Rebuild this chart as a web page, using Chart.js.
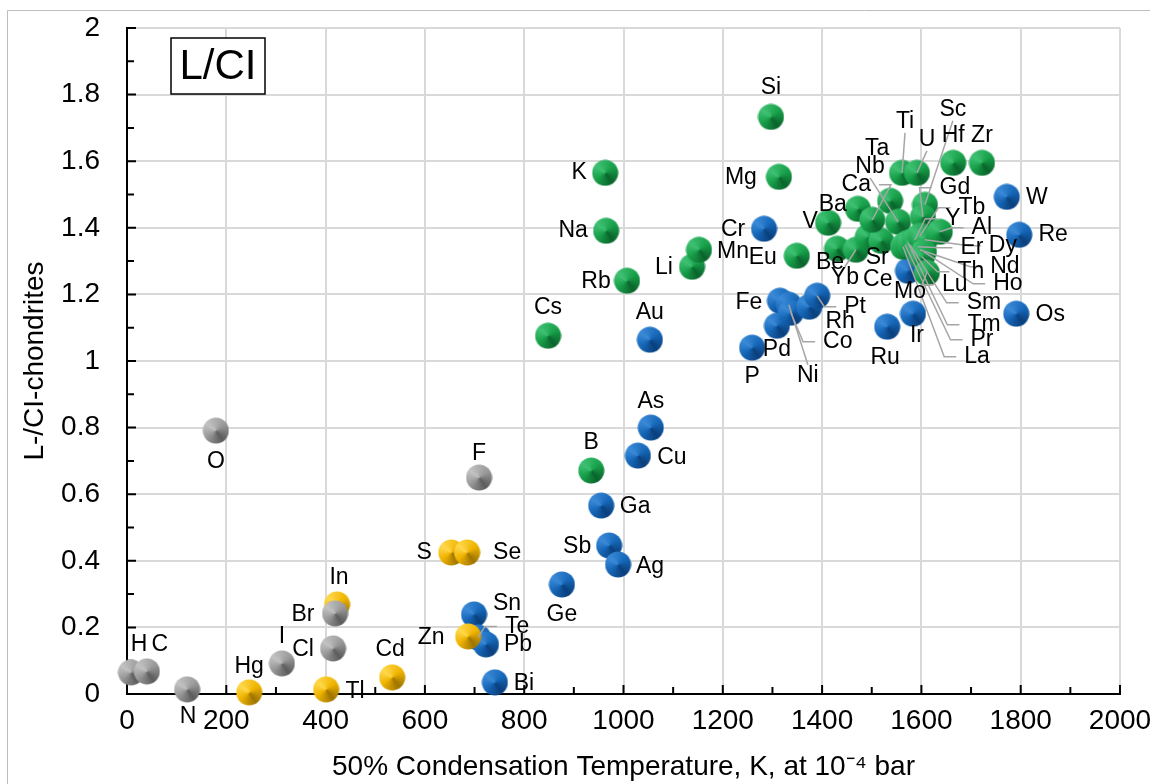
<!DOCTYPE html>
<html>
<head>
<meta charset="UTF-8">
<title>L/CI vs condensation temperature</title>
<script src="https://cdn.jsdelivr.net/npm/chart.js"></script>
<style>
  body { margin: 0; background: #fff; }
  canvas { display: block; }
</style>
</head>
<body>
<canvas id="chart" width="1150" height="784"></canvas>
<script>
// 50% condensation temperature (K) and L-/CI-chondrite ratio, per element group
var grayNames = ['H', 'C', 'N', 'O', 'F', 'Cl', 'Br', 'I'];
var grayTc    = [8, 40, 121, 179, 709, 415, 419, 312];
var grayRatio = [0.065, 0.068, 0.014, 0.791, 0.650, 0.137, 0.242, 0.092];

var yellowNames = ['Hg', 'Tl', 'In', 'Cd', 'S', 'Se', 'Zn'];
var yellowTc    = [246, 401, 423, 534, 653, 685, 687];
var yellowRatio = [0.005, 0.014, 0.269, 0.050, 0.425, 0.425, 0.173];

var greenNames = ['Si', 'Mg', 'K', 'Na', 'Rb', 'Li', 'Mn', 'Cs', 'B', 'Eu', 'V', 'Be', 'Yb', 'Ba',
                  'Ce', 'Sr', 'Ca', 'Ta', 'Nb', 'La', 'Pr', 'Tm', 'Sm', 'Ti', 'U', 'Sc', 'Gd',
                  'Y', 'Er', 'Nd', 'Tb', 'Dy', 'Ho', 'Th', 'Lu', 'Al', 'Hf', 'Zr'];
var greenTc    = [1297, 1313, 963, 965, 1007, 1138, 1152, 848, 935, 1349, 1412, 1430, 1468, 1472,
                  1492, 1519, 1501, 1537, 1553, 1563, 1567, 1573, 1577, 1561, 1591, 1607, 1603,
                  1587, 1593, 1597, 1597, 1607, 1605, 1601, 1611, 1637, 1664, 1722];
var greenRatio = [1.733, 1.553, 1.565, 1.391, 1.241, 1.283, 1.334, 1.076, 0.671, 1.316, 1.415, 1.337, 1.334, 1.457,
                  1.373, 1.361, 1.424, 1.481, 1.418, 1.343, 1.349, 1.355, 1.349, 1.565, 1.565, 1.469, 1.433,
                  1.364, 1.343, 1.334, 1.376, 1.364, 1.328, 1.313, 1.265, 1.388, 1.595, 1.595];

var blueNames = ['Sn', 'Te', 'Pb', 'Bi', 'Ge', 'Sb', 'Ag', 'Ga', 'Cu', 'As', 'Au', 'Cr', 'P', 'Pd',
                 'Fe', 'Ni', 'Co', 'Rh', 'Pt', 'Ru', 'Ir', 'Mo', 'Os', 'W', 'Re'];
var blueTc    = [699, 707, 723, 741, 876, 971, 989, 955, 1029, 1055, 1053, 1283, 1259, 1309,
                 1315, 1333, 1337, 1374, 1390, 1531, 1583, 1573, 1791, 1772, 1797];
var blueRatio = [0.239, 0.170, 0.149, 0.035, 0.329, 0.446, 0.389, 0.566, 0.716, 0.800, 1.064, 1.397, 1.040, 1.106,
                 1.181, 1.169, 1.145, 1.163, 1.196, 1.103, 1.142, 1.271, 1.142, 1.493, 1.379];

var xTickLabels = ['0', '200', '400', '600', '800', '1000', '1200', '1400', '1600', '1800', '2000'];
var yTickLabels = ['0', '0.2', '0.4', '0.6', '0.8', '1', '1.2', '1.4', '1.6', '1.8', '2'];

// label placement: [dx, dy] in pixels from the marker, third item = leader line ('h' elbow, 'v' straight)
var labelPos = {
    H: [8, -28], C: [13, -27], N: [1, 27], O: [0, 31], F: [0, -24], Cl: [-30, 1], Br: [-32, 1], I: [0, -27],
    Hg: [0, -26], Tl: [29, 2], In: [2, -27], Cd: [-2, -28], S: [-27, 0], Se: [40, 0], Zn: [-37, 1],
    Sn: [33, -11], Te: [39, -11, 'h'], Pb: [32, 0], Bi: [29, 1], Ge: [0, 30], Sb: [-32, 1], Ag: [32, 2],
    Ga: [34, 1], Cu: [34, 2], As: [0, -26], Au: [0, -27], Cr: [-31, 1], P: [0, 29], Pd: [0, 24],
    Fe: [-31, 2], Ni: [19, 71, 'v'], Co: [47, 29, 'h'], Rh: [31, 15], Pt: [38, 11, 'h'], Ru: [-2, 31],
    Ir: [4, 22], Mo: [2, 21], Os: [34, 1], W: [30, 1], Re: [34, 0],
    Si: [0, -29], Mg: [-38, 1], K: [-26, 0], Na: [-33, 0], Rb: [-31, 1], Li: [-28, 1], Mn: [34, 2],
    Cs: [0, -28], B: [0, -28], Eu: [-34, 2], V: [-18, -1], Ba: [-25, -4], Ta: [-13, -52],
    Nb: [-28, -55, 'v'], Ca: [-16, -35, 'h'], Be: [-7, 14], Yb: [-11, 28, 'v'], Ce: [10, 43], Sr: [-4, 17],
    Ti: [3, -51, 'v'], U: [10, -33, 'v'], Sc: [28, -95, 'v'], Hf: [0, -27], Zr: [0, -27],
    Gd: [32, -29, 'h'], Tb: [52, -28, 'h'], Y: [38, -21, 'h'], Al: [42, -4, 'h'], Er: [54, 1, 'h'],
    Dy: [78, 6, 'h'], Nd: [85, 17, 'h'], Th: [49, 15, 'h'], Ho: [84, 32, 'h'], Lu: [28, 12, 'h'],
    Sm: [74, 58, 'h'], Tm: [76, 82, 'h'], Pr: [77, 95, 'h'], La: [74, 110, 'h']
};

var FONT = '"Liberation Sans", Arial, sans-serif';

// shaded ball marker
function makeBall(light, mid, dark) {
    var c = document.createElement('canvas');
    c.width = 27; c.height = 27;
    var g = c.getContext('2d');
    var grad = g.createConicGradient(-Math.PI * 0.8, 13.5, 13.5);
    grad.addColorStop(0, light);
    grad.addColorStop(0.3, mid);
    grad.addColorStop(0.55, dark);
    grad.addColorStop(0.8, mid);
    grad.addColorStop(1, light);
    g.beginPath();
    g.arc(13.5, 13.5, 13, 0, Math.PI * 2);
    g.fillStyle = grad;
    g.fill();
    return c;
}

function points(xs, ys) {
    return xs.map(function (v, i) { return {x: v, y: ys[i]}; });
}

var groups = [
    {names: grayNames, tc: grayTc, ratio: grayRatio, ball: makeBall('#c2c2c2', '#999999', '#5c5c5c')},
    {names: yellowNames, tc: yellowTc, ratio: yellowRatio, ball: makeBall('#ffd84a', '#f0b400', '#9e7400')},
    {names: greenNames, tc: greenTc, ratio: greenRatio, ball: makeBall('#3fc173', '#18a04a', '#0a642c')},
    {names: blueNames, tc: blueTc, ratio: blueRatio, ball: makeBall('#3a8ad8', '#1667b8', '#0a3f7c')}
];

var bgPlugin = {
    id: 'bg',
    beforeDraw: function (chart) {
        var ctx = chart.ctx;
        ctx.save();
        ctx.fillStyle = '#fff';
        ctx.fillRect(0, 0, chart.width, chart.height);
        ctx.strokeStyle = '#bdbdbd';
        ctx.lineWidth = 1;
        ctx.beginPath();
        ctx.moveTo(7.5, chart.height);
        ctx.lineTo(7.5, 10.5);
        ctx.lineTo(chart.width, 10.5);
        ctx.stroke();
        ctx.restore();
    }
};

// inside tick marks on both axes
var tickPlugin = {
    id: 'innerTicks',
    beforeDatasetsDraw: function (chart) {
        var ctx = chart.ctx, a = chart.chartArea, xs = chart.scales.x, ys = chart.scales.y;
        ctx.save();
        ctx.strokeStyle = '#000';
        ctx.lineWidth = 2;
        ctx.beginPath();
        for (var i = 0; i <= 20; i++) {
            var px = xs.getPixelForValue(i * 100);
            var len = i % 2 === 0 ? 9 : 7;
            ctx.moveTo(px, a.bottom);
            ctx.lineTo(px, a.bottom - len);
            var py = ys.getPixelForValue(i * 0.1);
            ctx.moveTo(a.left, py);
            ctx.lineTo(a.left + len, py);
        }
        ctx.stroke();
        ctx.restore();
    }
};

var labelPlugin = {
    id: 'elementLabels',
    afterDatasetsDraw: function (chart) {
        var ctx = chart.ctx, xs = chart.scales.x, ys = chart.scales.y;
        var items = [];
        ctx.save();
        ctx.font = '23px ' + FONT;
        groups.forEach(function (g) {
            g.names.forEach(function (name, i) {
                var p = labelPos[name] || [0, -27];
                var px = xs.getPixelForValue(g.tc[i]);
                var py = ys.getPixelForValue(g.ratio[i]);
                items.push({name: name, px: px, py: py, lx: px + p[0], ly: py + p[1], mode: p[2],
                            w: ctx.measureText(name).width});
            });
        });
        // leader lines
        ctx.strokeStyle = '#a6a6a6';
        ctx.lineWidth = 1.5;
        items.forEach(function (it) {
            if (!it.mode) return;
            ctx.beginPath();
            ctx.moveTo(it.px, it.py);
            if (it.mode === 'h') {
                var side = it.lx > it.px ? -1 : 1;
                var ex = it.lx + side * (it.w / 2 + 8);
                ctx.lineTo(ex + side * 12, it.ly);
                ctx.lineTo(ex, it.ly);
            } else {
                ctx.lineTo(it.lx, it.ly > it.py ? it.ly - 11 : it.ly + 11);
            }
            ctx.stroke();
        });
        ctx.fillStyle = '#000';
        ctx.textAlign = 'center';
        ctx.textBaseline = 'middle';
        items.forEach(function (it) {
            ctx.fillText(it.name, it.lx, it.ly);
        });

        // panel tag
        ctx.fillStyle = '#fff';
        ctx.fillRect(171, 38, 94, 56);
        ctx.strokeStyle = '#000';
        ctx.lineWidth = 1.5;
        ctx.strokeRect(171, 38, 94, 56);
        ctx.fillStyle = '#000';
        ctx.font = '42px ' + FONT;
        ctx.fillText('L/CI', 218, 67);
        ctx.restore();
    }
};

var tickFont = {family: FONT, size: 28};

new Chart(document.getElementById('chart').getContext('2d'), {
    type: 'scatter',
    data: {
        datasets: groups.map(function (g) {
            return {
                data: points(g.tc, g.ratio),
                pointStyle: g.ball,
                pointRadius: 13,
                pointHoverRadius: 13,
                clip: false
            };
        })
    },
    options: {
        responsive: false,
        animation: false,
        events: [],
        layout: {padding: {top: 28, right: 30, left: 0, bottom: 0}},
        plugins: {legend: {display: false}, tooltip: {enabled: false}},
        scales: {
            x: {
                type: 'linear',
                min: 0,
                max: 2000,
                afterFit: function (s) {
                    s.height = 90;
                    s.paddingLeft = 0;
                    s.paddingRight = 0;
                },
                ticks: {
                    stepSize: 200,
                    autoSkip: false,
                    maxRotation: 0,
                    padding: 10,
                    color: '#000',
                    font: tickFont,
                    callback: function (v, i) { return xTickLabels[i]; }
                },
                grid: {color: '#d9d9d9', lineWidth: 2, drawTicks: false},
                border: {color: '#000', width: 2},
                title: {
                    display: true,
                    text: '50% Condensation Temperature, K, at 10\u207B\u2074 bar',
                    color: '#000',
                    font: tickFont,
                    padding: {top: 0, bottom: 0}
                }
            },
            y: {
                min: 0,
                max: 2,
                afterFit: function (s) {
                    s.width = 127;
                    s.paddingTop = 0;
                    s.paddingBottom = 0;
                },
                ticks: {
                    stepSize: 0.2,
                    padding: 27,
                    color: '#000',
                    font: tickFont,
                    callback: function (v, i) { return yTickLabels[i]; }
                },
                grid: {color: '#d9d9d9', lineWidth: 2, drawTicks: false},
                border: {color: '#000', width: 2},
                title: {
                    display: true,
                    text: 'L-/CI-chondrites',
                    color: '#000',
                    font: tickFont,
                    padding: {top: 18, bottom: 0}
                }
            }
        }
    },
    plugins: [bgPlugin, tickPlugin, labelPlugin]
});
</script>
</body>
</html>
